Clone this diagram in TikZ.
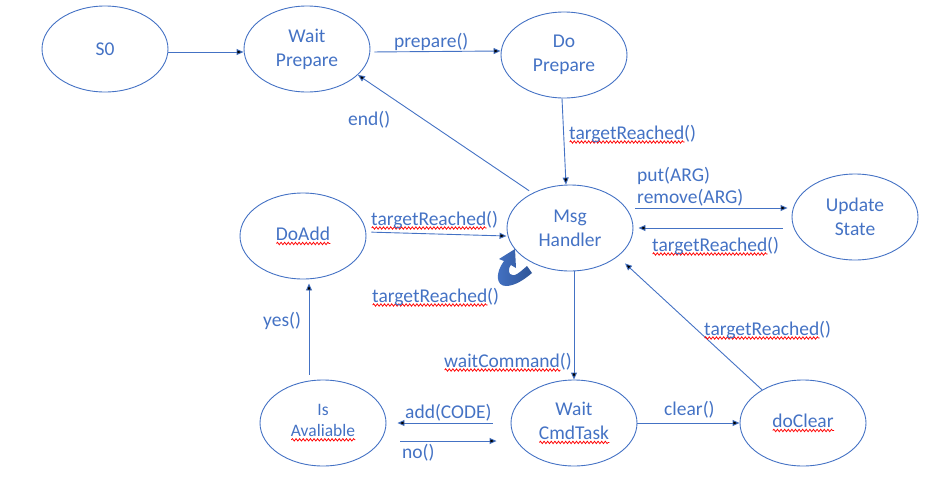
\documentclass[tikz,border=0pt]{standalone}
\usepackage{fontspec}
\setmainfont{Carlito}
\usetikzlibrary{arrows.meta,shapes.geometric,decorations.pathmorphing}
\definecolor{ofblue}{HTML}{4472C4}
\definecolor{ofdark}{HTML}{2F5597}
\definecolor{squigred}{HTML}{FF0000}
\tikzset{
  state/.style={ellipse,draw=ofblue,line width=0.9pt,minimum width=126pt,minimum height=86pt,
    inner sep=0pt,align=center,text=ofblue,font=\fontsize{19.5}{24}\selectfont},
  arr/.style={-{Triangle[length=7pt,width=6pt]},line width=0.9pt,draw=ofblue},
  lbl/.style={anchor=base west,inner sep=0pt,text=ofblue,font=\fontsize{19.5}{24}\selectfont},
  wavyred/.style={-,draw=squigred,line width=0.75pt,decorate,
    decoration={snake,amplitude=1.2pt,segment length=3.6pt}}
}
\newsavebox{\squigbox}
\newlength{\squiglen}
\newcommand{\squig}[1]{\sbox{\squigbox}{#1}\setlength{\squiglen}{\wd\squigbox}%
  \rlap{\tikz[baseline=0pt]\draw[wavyred] (0pt,-3pt) -- (\squiglen,-3pt);}\usebox{\squigbox}}

\begin{document}
\begin{tikzpicture}[x=1pt,y=-1pt]
 \useasboundingbox (0,0) rectangle (927,493);
 % states
 \node[state] (s0) at (105,49) {S0};
 \node[state] (wp) at (307,49) {Wait\\Prepare};
 \node[state] (dp) at (564,55) {Do\\Prepare};
 \node[state] (mh) at (570,228) {Msg\\Handler};
 \node[state] (da) at (303,236) {\squig{DoAdd}};
 \node[state] (us) at (855,217) {Update\\State};
 \node[state,font=\fontsize{17.5}{21}\selectfont] (ia) at (323,423) {Is\\\squig{Avaliable}};
 \node[state] (wc) at (574,423) {Wait\\\squig{CmdTask}};
 \node[state] (dc) at (803,423) {\squig{doClear}};
 % transitions
 \draw[arr] ([yshift=-3pt]s0.east) -- ([yshift=-3pt]wp.west);
 \draw[arr,shorten <=4pt] ([yshift=-3pt]wp.east) -- ([yshift=4pt]dp.west);
 \draw[arr] ([xshift=-2pt]dp.south) -- ([xshift=-4pt]mh.north);
 \draw[arr,shorten <=4pt] (mh.137) -- (wp.-27);
 \draw[arr,shorten <=5pt] ([yshift=4pt]da.east) -- ([yshift=-8pt]mh.west);
 \draw[arr,shorten <=2pt,shorten >=4pt] ([yshift=20pt]mh.east) -- ([yshift=9pt]us.west);
 \draw[arr,shorten <=9pt,shorten >=5pt] ([yshift=-11pt]us.west) -- (mh.east);
 \draw[arr] ([xshift=4pt]mh.south) -- (wc.north);
 \draw[arr,shorten <=18pt,shorten >=11pt] (wc.west) -- (ia.east);
 \draw[arr,shorten <=14pt,shorten >=14pt] ([yshift=-18pt]ia.east) -- ([yshift=-18pt]wc.west);
 \draw[arr,shorten <=5pt,shorten >=4pt] ([xshift=-14pt]ia.north) -- ([xshift=6pt]da.south);
 \draw[arr] (wc.east) -- (dc.west);
 \draw[arr,shorten >=10pt] (dc.141) -- (mh.-31);
 % self loop on the handler
 \begin{scope}[shift={(mh.center)}]
  \shade[left color=ofblue,right color=ofdark] (-55,21) -- (-71,31) -- (-66,33)
   .. controls (-75,45) and (-74,58) .. (-64,58) .. controls (-55,58) and (-45,51) .. (-38,45)
   -- (-43,38) .. controls (-50,44) and (-56,50) .. (-60,46) .. controls (-62,43) and (-61,39) .. (-59,37)
   -- (-54,40) -- cycle;
 \end{scope}
 % labels
 \node[lbl] (lprep) at (394,47) {prepare()};
 \node[lbl] (lreach1) at (569,139) {\squig{targetReached}()};
 \node[lbl] (lend) at (348,125) {end()};
 \node[lbl] (lreach2) at (371,225) {\squig{targetReached}()};
 \node[lbl] (lreach3) at (372,302) {\squig{targetReached}()};
 \node[lbl] (lput) at (637,181) {put(ARG)};
 \node[lbl] (lrem) at (637,203) {remove(ARG)};
 \node[lbl] (lreach4) at (652,251) {\squig{targetReached}()};
 \node[lbl] (lwait) at (444,367) {\squig{waitCommand}()};
 \node[lbl] (ladd) at (405,418) {add(CODE)};
 \node[lbl] (lno) at (402,458) {no()};
 \node[lbl] (lyes) at (263,326) {yes()};
 \node[lbl] (lclear) at (664,415) {clear()};
 \node[lbl] (lreach5) at (704,335) {\squig{targetReached}()};
\end{tikzpicture}
\end{document}
